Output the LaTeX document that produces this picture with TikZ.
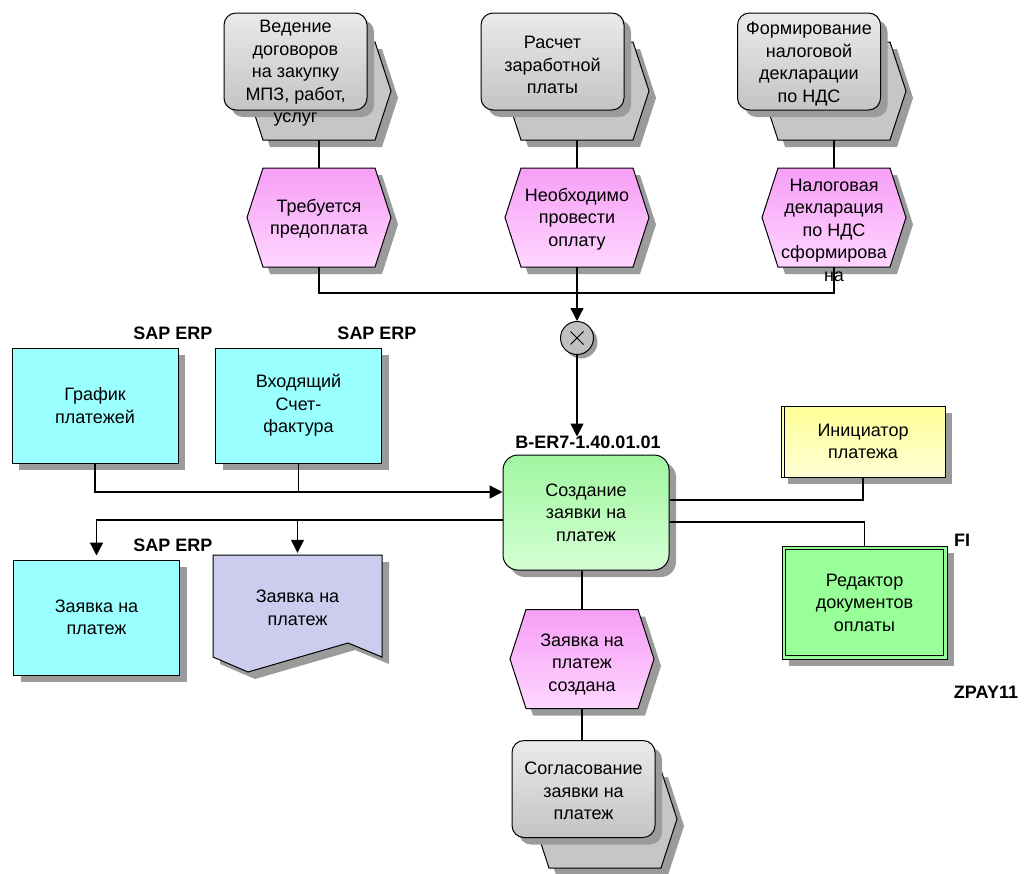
\documentclass[tikz,border=0pt]{standalone}
\usepackage{fontspec}
\setmainfont{Liberation Sans}
\usetikzlibrary{arrows.meta,shadows,calc}
\definecolor{shadowc}{RGB}{155,155,155}
\definecolor{hexgray}{RGB}{198,198,198}
\definecolor{grayT}{RGB}{234,234,234}
\definecolor{grayB}{RGB}{196,196,196}
\definecolor{pinkT}{RGB}{246,158,246}
\definecolor{pinkB}{RGB}{255,214,255}
\definecolor{cyanF}{RGB}{153,255,255}
\definecolor{lavF}{RGB}{204,204,238}
\definecolor{greenT}{RGB}{160,246,160}
\definecolor{greenB}{RGB}{212,255,212}
\definecolor{yelT}{RGB}{255,255,150}
\definecolor{yelB}{RGB}{255,255,214}
\definecolor{fiF}{RGB}{153,255,153}
\definecolor{xorF}{RGB}{192,192,192}

\newcommand{\hexp}[5]{(#1-#3/2,#2) -- (#1-#3/2+#5,#2-#4/2) -- (#1+#3/2-#5,#2-#4/2) -- (#1+#3/2,#2) -- (#1+#3/2-#5,#2+#4/2) -- (#1-#3/2+#5,#2+#4/2) -- cycle}

\newcommand{\eventhex}[5]{%
  \fill[shadowc, shift={(7,7)}] \hexp{#2}{#3}{144}{99}{16};
  \shadedraw[top color=pinkT, bottom color=pinkB, line width=1pt] \hexp{#2}{#3}{144}{99}{16};
  \node[anchornode, minimum width=144pt, minimum height=99pt] (#1) at (#2,#3) {};
  \node[txt] (#1t) at (#2,#5) {#4};
}

\newcommand{\procif}[7]{%
  \fill[shadowc, shift={(7,7)}] \hexp{#4}{#5}{144}{98}{16};
  \filldraw[fill=hexgray, line width=1pt] \hexp{#4}{#5}{144}{98}{16};
  \coordinate (#1b) at (#4,#5+49);
  \node[procrect] (#1) at (#2,#3) {};
  \node[txt] (#1t) at (#2,#7) {#6};
}

\begin{document}
\begin{tikzpicture}[x=1pt,y=-1pt,
  every node/.style={font=\fontsize{18}{22.5}\selectfont},
  txt/.style={align=center, inner sep=0pt},
  lbl/.style={font=\fontsize{18}{22.5}\selectfont\bfseries, inner sep=0pt},
  anchornode/.style={inner sep=0pt, draw=none, align=center},
  shadowed/.style={drop shadow={shadow xshift=7pt, shadow yshift=-7pt, fill=shadowc, opacity=1}},
  procrect/.style={draw, line width=1pt, rounded corners=12pt, minimum width=143pt, minimum height=97pt, top color=grayT, bottom color=grayB, shadowed, inner sep=0pt},
  cyanbox/.style={draw, line width=1pt, fill=cyanF, minimum width=166pt, minimum height=115pt, align=center, shadowed, inner sep=0pt},
  funcbox/.style={draw, line width=1pt, rounded corners=15pt, top color=greenT, bottom color=greenB, minimum width=166pt, minimum height=115pt, align=center, shadowed, inner sep=0pt},
  yelbox/.style={draw, line width=1pt, top color=yelT, bottom color=yelB, minimum width=164pt, minimum height=71pt, align=center, shadowed, inner sep=0pt},
  fibox/.style={draw, line width=1pt, fill=fiF, minimum width=165pt, minimum height=113pt, align=center, shadowed, inner sep=0pt},
  xor/.style={circle, draw, line width=1pt, fill=xorF, minimum size=33pt, inner sep=0pt, drop shadow={shadow xshift=4pt, shadow yshift=-4pt, fill=shadowc, opacity=1}},
  conn/.style={line width=1.4pt, draw=black},
  arr/.style={conn, -{Triangle[length=13pt,width=13pt]}}
]
\useasboundingbox (0,0) rectangle (1024,873);

% top process interfaces
\procif{pA}{295.5}{61.5}{319}{91}{Ведение\\договоров\\на закупку\\МПЗ, работ,\\услуг}{73.5}
\procif{pB}{552.5}{61.5}{577}{91}{Расчет\\заработной\\платы}{65}
\procif{pC}{809}{61.5}{834}{91}{Формирование\\налоговой\\декларации\\по НДС}{64}

% events
\eventhex{eA}{319}{217.5}{Требуется\\предоплата}{219}
\eventhex{eB}{577}{217.5}{Необходимо\\провести\\оплату}{219}
\eventhex{eC}{834}{217.5}{Налоговая\\декларация\\по НДС\\сформирова\\на}{230}

\draw[conn] (pAb) -- (eA.north);
\draw[conn] (pBb) -- (eB.north);
\draw[conn] (pCb) -- (eC.north);

\coordinate (jn) at (577,293);
\draw[conn] (eA.south) |- (jn) -| (eC.south);

\node[xor] (x) at (577,338) {};
\draw[line width=0.8pt] ($(x.center)+(-6.5,-6.5)$) -- ($(x.center)+(6.5,6.5)$);
\draw[line width=0.8pt] ($(x.center)+(-6.5,6.5)$) -- ($(x.center)+(6.5,-6.5)$);
\draw[arr] (eB.south) -- (x.north);

% function
\node[funcbox] (F) at (586,512.5) {Создание\\заявки на\\платеж};
\node[lbl] (code) at (588,442) {B-ER7-1.40.01.01};
\draw[arr, shorten >=18pt] (x.south) -- (x.south |- F.north);

% inputs
\node[lbl] (sap1) at (173,333) {SAP ERP};
\node[cyanbox] (G1) at (95,405.5) {График\\платежей};
\node[lbl] (sap2) at (377,333) {SAP ERP};
\node[cyanbox] (G2) at (298.5,405.5) {Входящий\\Счет-\\фактура};
\coordinate (fin) at ([yshift=20.5pt]F.west);
\draw[arr] (G1.south) |- (fin);
\draw[conn] (G2.south) -- (G2.south |- fin);

% outputs
\coordinate (fout) at ([yshift=-7.5pt]F.west);
\node[cyanbox] (O1) at (96.5,617.5) {Заявка на\\платеж};
\node[lbl] (sap3) at (173,545) {SAP ERP};
\fill[shadowc, shift={(7,7)}] (213,555) -- (382,555) -- (382,657) -- (348,643) -- (248,672) -- (213,657) -- cycle;
\filldraw[fill=lavF, line width=1pt] (213,555) -- (382,555) -- (382,657) -- (348,643) -- (248,672) -- (213,657) -- cycle;
\node[anchornode, minimum width=169pt, minimum height=106pt] (O2) at (297.5,608) {Заявка на\\платеж};
\draw[arr, shorten >=4pt] (fout) -| (O1.north);
\draw[arr, shorten >=2pt] (O2.north |- fout) -- (O2.north);

% right side
\node[yelbox] (Y) at (863,441.5) {Инициатор\\платежа};
\draw[line width=1pt] ([xshift=4pt]Y.north west) -- ([xshift=4pt]Y.south west);
\coordinate (r1) at ([yshift=12.5pt]F.east);
\draw[conn] (r1) -| (Y.south);
\node[fibox] (FI) at (864.5,602.5) {Редактор\\документов\\оплаты};
\draw[line width=1pt] ([shift={(4,4)}]FI.north west) rectangle ([shift={(-4,-4)}]FI.south east);
\coordinate (r2) at ([yshift=-9.5pt]F.east);
\draw[conn] (r2) -| (FI.north);
\node[lbl] (fil) at (962,540) {FI};
\node[lbl] (zp) at (986,692) {ZPAY11};

% bottom
\eventhex{eD}{582}{659}{Заявка на\\платеж\\создана}{664}
\draw[conn] (F.south -| eD.north) -- (eD.north);
\procif{pE}{583.5}{789}{605}{819}{Согласование\\заявки на\\платеж}{791}
\draw[conn] (eD.south) -- (eD.south |- pE.north);
\end{tikzpicture}
\end{document}
